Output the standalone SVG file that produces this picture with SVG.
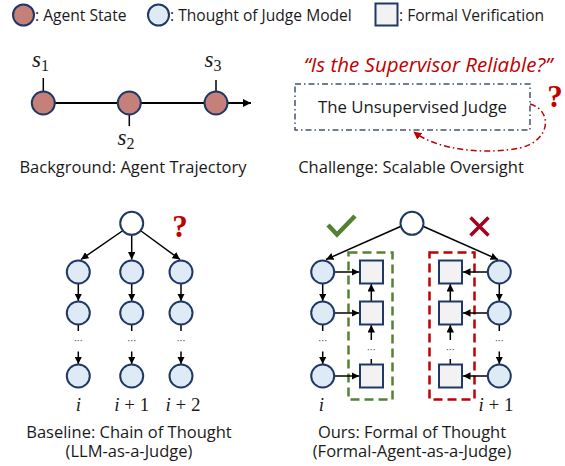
<svg xmlns="http://www.w3.org/2000/svg" width="565" height="466" viewBox="0 0 565 466">
<style>
.t{font-family:"Open Sans","Noto Sans","DejaVu Sans",sans-serif;fill:#1a1a1a}
.cap{font-size:16.5px;text-anchor:middle}
.leg{font-size:15.6px}
.m{font-family:"Liberation Serif","DejaVu Serif",serif;font-style:italic;fill:#1a1a1a}
.q{font-family:"Liberation Serif","DejaVu Serif",serif;font-weight:bold;font-size:31px;fill:#C00000;text-anchor:middle}
.st{fill:#C5807A;stroke:#1F3864;stroke-width:2}
.th{fill:#DEEBF7;stroke:#1F3864;stroke-width:2}
.rt{fill:#FFFFFF;stroke:#1F3864;stroke-width:2}
.fv{fill:#F2F2F2;stroke:#1F3864;stroke-width:2}
.ln{stroke:#000;stroke-width:1.5;fill:none}
.ar{stroke:#000;stroke-width:1.5;fill:none;marker-end:url(#ah)}
.dots{font-family:"Open Sans",sans-serif;font-size:11px;fill:#666;text-anchor:middle}
</style>
<defs>
<marker id="ah" viewBox="0 0 10 10" refX="10" refY="5" markerWidth="7.5" markerHeight="7.5" markerUnits="userSpaceOnUse" orient="auto">
<path d="M0,0 L10,5 L0,10 z" fill="#000"/>
</marker>
<marker id="ahb" viewBox="0 0 10 10" refX="10" refY="5" markerWidth="8" markerHeight="10" markerUnits="userSpaceOnUse" orient="auto">
<path d="M0,0 L10,5 L0,10 z" fill="#000"/>
</marker>
<marker id="ahr" viewBox="0 0 10 10" refX="9" refY="5" markerWidth="8" markerHeight="8" markerUnits="userSpaceOnUse" orient="auto">
<path d="M0,0 L10,5 L0,10 z" fill="#C00000"/>
</marker>
</defs>
<rect width="565" height="466" fill="#fff"/>

<g id="legend">
<circle class="st" cx="23.5" cy="15" r="10.5"/>
<text class="t leg" x="35" y="20.5">: Agent State</text>
<circle class="th" cx="158.5" cy="15" r="10.5"/>
<text class="t leg" x="170" y="20.5">: Thought of Judge Model</text>
<rect class="fv" x="375.5" y="3.5" width="22" height="22"/>
<text class="t leg" x="399" y="20.5">: Formal Verification</text>
</g>

<g id="background">
<g id="traj-line">
<line x1="43" y1="103" x2="251" y2="103" stroke="#000" stroke-width="2" marker-end="url(#ahb)"/>
<line class="ln" x1="43.3" y1="78" x2="43.3" y2="91"/>
<line class="ln" x1="216" y1="80" x2="216" y2="91"/>
<line class="ln" x1="129.3" y1="115" x2="129.3" y2="126"/>
</g>
<g id="s1"><circle class="st" cx="43.3" cy="103" r="11.5"/><text class="m" x="32" y="67" font-size="23">s<tspan font-size="16" font-style="normal" dy="4">1</tspan></text></g>
<g id="s2"><circle class="st" cx="129.3" cy="103" r="11.5"/><text class="m" x="117.5" y="145" font-size="23">s<tspan font-size="16" font-style="normal" dy="4">2</tspan></text></g>
<g id="s3"><circle class="st" cx="216" cy="103" r="11.5"/><text class="m" x="204.5" y="67" font-size="23">s<tspan font-size="16" font-style="normal" dy="4">3</tspan></text></g>
<text class="t cap" x="133" y="173">Background: Agent Trajectory</text>
</g>

<g id="challenge">
<text x="428" y="72" font-family="'Open Sans','Noto Sans',sans-serif" font-style="italic" font-size="20.5" fill="#C00000" text-anchor="middle">“Is the Supervisor Reliable?”</text>
<g id="judge-box">
<rect x="295" y="84" width="235" height="46" fill="none" stroke="#44546A" stroke-width="1.5" stroke-dasharray="6,3,1.5,3"/>
<text class="t" x="412.5" y="113" font-size="16.8" text-anchor="middle">The Unsupervised Judge</text>
</g>
<path d="M530,104 C552,110 552,140 520,148 C490,154 440,152 414,132" fill="none" stroke="#C00000" stroke-width="1.5" stroke-dasharray="6,3,1.5,3" marker-end="url(#ahr)"/>
<text class="q" x="555" y="107">?</text>
<text class="t cap" x="411" y="173">Challenge: Scalable Oversight</text>
</g>

<g id="baseline">
<g id="baseline-connectors">
<line class="ar" x1="123" y1="230.5" x2="81" y2="259.5"/>
<line class="ar" x1="131.7" y1="235" x2="131.7" y2="259.5"/>
<line class="ar" x1="140.4" y1="230.5" x2="180" y2="259.5"/>
<line class="ar" x1="78.3" y1="284" x2="78.3" y2="301"/>
<line class="ar" x1="131.7" y1="284" x2="131.7" y2="301"/>
<line class="ar" x1="181" y1="284" x2="181" y2="301"/>
<line class="ln" x1="78.3" y1="325" x2="78.3" y2="331"/>
<line class="ln" x1="131.7" y1="325" x2="131.7" y2="331"/>
<line class="ln" x1="181" y1="325" x2="181" y2="331"/>
<line class="ar" x1="78.3" y1="351.5" x2="78.3" y2="364"/>
<line class="ar" x1="131.7" y1="351.5" x2="131.7" y2="364"/>
<line class="ar" x1="181" y1="351.5" x2="181" y2="364"/>
</g>
<g id="b-root"><circle class="rt" cx="131.7" cy="223.3" r="11.5"/></g>
<g id="b-col1"><circle class="th" cx="78.3" cy="272" r="11.5"/><circle class="th" cx="78.3" cy="313" r="11.5"/><text class="dots" x="78.3" y="344">···</text><circle class="th" cx="78.3" cy="376" r="11.5"/></g>
<g id="b-col2"><circle class="th" cx="131.7" cy="272" r="11.5"/><circle class="th" cx="131.7" cy="313" r="11.5"/><text class="dots" x="131.7" y="344">···</text><circle class="th" cx="131.7" cy="376" r="11.5"/></g>
<g id="b-col3"><circle class="th" cx="181" cy="272" r="11.5"/><circle class="th" cx="181" cy="313" r="11.5"/><text class="dots" x="181" y="344">···</text><circle class="th" cx="181" cy="376" r="11.5"/></g>
<text class="q" x="180" y="237">?</text>
<text class="m" x="78.3" y="411" font-size="19" text-anchor="middle">i</text>
<text class="m" x="131.7" y="411" font-size="19" text-anchor="middle">i <tspan font-style="normal">+ 1</tspan></text>
<text class="m" x="183" y="411" font-size="19" text-anchor="middle">i <tspan font-style="normal">+ 2</tspan></text>
<text class="t cap" x="129" y="438">Baseline: Chain of Thought</text>
<text class="t cap" x="129" y="457">(LLM-as-a-Judge)</text>
</g>

<g id="ours">
<rect x="348.5" y="252.5" width="44" height="147" fill="none" stroke="#548235" stroke-width="2.5" stroke-dasharray="9,5"/>
<rect x="429.5" y="252.5" width="45" height="147" fill="none" stroke="#C00000" stroke-width="2.5" stroke-dasharray="9,5"/>
<g id="ours-connectors">
<line class="ar" x1="400.5" y1="226.5" x2="326" y2="259.5"/>
<line class="ar" x1="423.5" y1="226.5" x2="498" y2="259.5"/>
<line class="ar" x1="322.7" y1="284" x2="322.7" y2="301"/>
<line class="ln" x1="322.7" y1="325" x2="322.7" y2="331"/>
<line class="ar" x1="322.7" y1="351.5" x2="322.7" y2="364"/>
<line class="ar" x1="499.3" y1="284" x2="499.3" y2="301"/>
<line class="ln" x1="499.3" y1="325" x2="499.3" y2="331"/>
<line class="ar" x1="499.3" y1="351.5" x2="499.3" y2="364"/>
<line class="ar" x1="334.5" y1="272" x2="359" y2="272"/>
<line class="ar" x1="334.5" y1="313" x2="359" y2="313"/>
<line class="ar" x1="334.5" y1="376" x2="359" y2="376"/>
<line class="ar" x1="487.5" y1="272" x2="463" y2="272"/>
<line class="ar" x1="487.5" y1="313" x2="463" y2="313"/>
<line class="ar" x1="487.5" y1="376" x2="463" y2="376"/>
<line class="ar" x1="371.3" y1="301" x2="371.3" y2="284"/>
<line class="ar" x1="371.3" y1="340" x2="371.3" y2="325"/>
<line class="ln" x1="371.3" y1="359" x2="371.3" y2="364"/>
<line class="ar" x1="450.3" y1="301" x2="450.3" y2="284"/>
<line class="ar" x1="450.3" y1="340" x2="450.3" y2="325"/>
<line class="ln" x1="450.3" y1="359" x2="450.3" y2="364"/>
</g>
<g id="o-root"><circle class="rt" cx="412" cy="223.3" r="11.5"/></g>
<g id="o-left"><circle class="th" cx="322.7" cy="272" r="11.5"/><circle class="th" cx="322.7" cy="313" r="11.5"/><text class="dots" x="322.7" y="344">···</text><circle class="th" cx="322.7" cy="376" r="11.5"/></g>
<g id="o-right"><circle class="th" cx="499.3" cy="272" r="11.5"/><circle class="th" cx="499.3" cy="313" r="11.5"/><text class="dots" x="499.3" y="344">···</text><circle class="th" cx="499.3" cy="376" r="11.5"/></g>
<g id="o-fv-left"><rect class="fv" x="360" y="260.5" width="23" height="23"/><rect class="fv" x="360" y="301.5" width="23" height="23"/><text class="dots" x="371.3" y="353">···</text><rect class="fv" x="360" y="364.5" width="23" height="23"/></g>
<g id="o-fv-right"><rect class="fv" x="439" y="260.5" width="23" height="23"/><rect class="fv" x="439" y="301.5" width="23" height="23"/><text class="dots" x="450.3" y="353">···</text><rect class="fv" x="439" y="364.5" width="23" height="23"/></g>
<path id="check" d="M328,225 L337,234.5 L355,216" fill="none" stroke="#548235" stroke-width="4.5"/>
<path id="cross" d="M470.5,217.5 L488.5,235.5 M488.5,217.5 L470.5,235.5" fill="none" stroke="#A50021" stroke-width="3.5"/>
<text class="m" x="321.3" y="411" font-size="19" text-anchor="middle">i</text>
<text class="m" x="496" y="411" font-size="19" text-anchor="middle">i <tspan font-style="normal">+ 1</tspan></text>
<text class="t cap" x="412" y="438">Ours: Formal of Thought</text>
<text class="t cap" x="412" y="457">(Formal-Agent-as-a-Judge)</text>
</g>
</svg>
